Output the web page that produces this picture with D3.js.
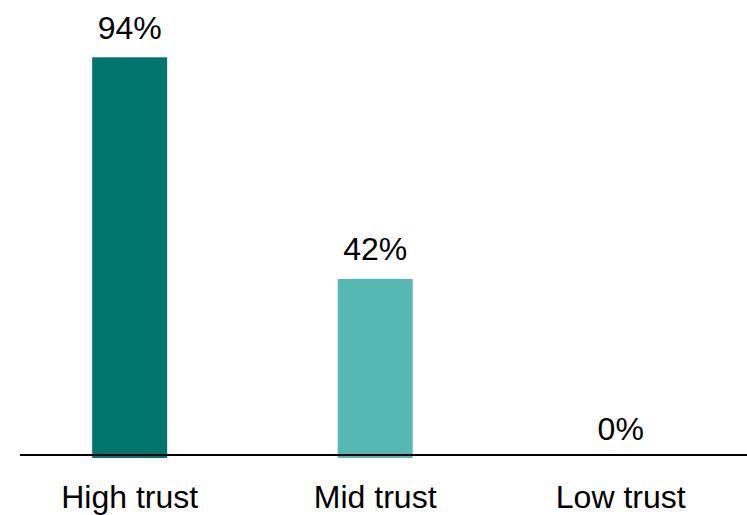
<!DOCTYPE html>
<html>
<head>
<meta charset="utf-8">
<script src="https://cdn.jsdelivr.net/npm/d3@7"></script>
<style>
  html, body { margin: 0; padding: 0; background: #fff; }
  svg { display: block; font-family: "Liberation Sans", Arial, sans-serif; }
</style>
</head>
<body>
<svg id="chart" width="747" height="515"></svg>
<script>
'use strict';

// Data
const categories = ['High trust', 'Mid trust', 'Low trust'];
const values     = [94, 42, 0];
const colors     = ['#00766F', '#55B8B2', '#55B8B2'];

const W = 747, H = 515;
const baseY = 458;

const svg = d3.select('#chart');

const x = d3.scaleBand()
  .domain(categories)
  .range([6.9, 743.5])
  .paddingInner(0.6946)
  .paddingOuter(0.3473);

const y = d3.scaleLinear()
  .domain([0, 94])
  .range([baseY, 57.3]);

// Bars
svg.append('g').selectAll('rect')
  .data(values)
  .join('rect')
  .attr('x', (d, i) => x(categories[i]))
  .attr('y', d => y(d))
  .attr('width', x.bandwidth())
  .attr('height', d => baseY - y(d))
  .attr('fill', (d, i) => colors[i]);

// Value labels
svg.append('g').selectAll('text')
  .data(values)
  .join('text')
  .attr('x', (d, i) => x(categories[i]) + x.bandwidth() / 2)
  .attr('y', d => y(d) - 18.5)
  .attr('text-anchor', 'middle')
  .attr('font-size', 32)
  .attr('fill', '#000')
  .text(d => d + '%');

// Baseline
svg.append('line')
  .attr('x1', 20).attr('x2', W)
  .attr('y1', 455).attr('y2', 455)
  .attr('stroke', '#000')
  .attr('stroke-width', 2);

// Category labels
svg.append('g').selectAll('text.cat')
  .data(categories)
  .join('text')
  .attr('class', 'cat')
  .attr('x', d => x(d) + x.bandwidth() / 2)
  .attr('y', 508)
  .attr('text-anchor', 'middle')
  .attr('font-size', 32)
  .attr('fill', '#000')
  .text(d => d);
</script>
</body>
</html>
